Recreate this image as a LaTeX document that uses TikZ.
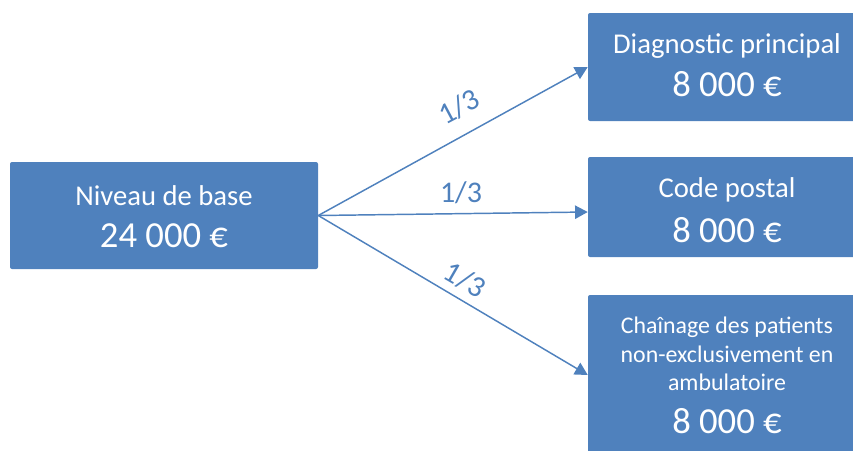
\documentclass[tikz,border=0pt]{standalone}
\usepackage{fontspec}
\setmainfont{Carlito}
\usetikzlibrary{arrows.meta}
\definecolor{boxblue}{HTML}{4F81BD}
\tikzset{
  x=0.75pt, y=-0.75pt,
  box/.style={fill=boxblue, draw=none, rounded corners=1.5pt, inner sep=0pt},
  mid/.style={text=white, anchor=base, inner sep=0pt, font=\fontsize{21.5}{25}\selectfont},
  small/.style={text=white, anchor=base, inner sep=0pt, font=\fontsize{17.9}{21}\selectfont},
  big/.style={text=white, anchor=base, inner sep=0pt, font=\fontsize{27.5}{32}\selectfont},
  conn/.style={draw=boxblue, line width=1.1pt, -{Triangle[length=9.5pt,width=10pt]}},
  frac/.style={text=boxblue, inner sep=0pt, font=\fontsize{22.5}{26}\selectfont}
}
\begin{document}
\begin{tikzpicture}
\useasboundingbox (0,0) rectangle (853,450);
\clip (0,0) rectangle (853,450);
% boxes
\node[box, minimum width=231pt, minimum height=80.25pt] (base) at (164,215.5) {};
\node[box, minimum width=208.5pt, minimum height=81pt] (diag) at (727,67) {};
\node[box, minimum width=208.5pt, minimum height=75pt] (code) at (727,207) {};
\node[box, minimum width=208.5pt, minimum height=120pt] (chain) at (727,375) {};
% texts
\node[mid] (t1) at (164,205) {Niveau de base};
\node[big] (t2) at (164,247) {24 000 €};
\node[mid] (t3) at (727,53) {Diagnostic principal};
\node[big] (t4) at (727,96) {8 000 €};
\node[mid] (t5) at (727,197) {Code postal};
\node[big] (t6) at (727,242) {8 000 €};
\node[small] (t7) at (727,333) {Chaînage des patients};
\node[small] (t8) at (727,362) {non-exclusivement en};
\node[small] (t9) at (727,390) {ambulatoire};
\node[big] (t10) at (727,433) {8 000 €};
% connectors
\draw[conn] (base.east) -- (diag.west);
\draw[conn] (base.east) -- ([yshift=-3.75pt]code.west);
\draw[conn] (base.east) -- (chain.west);
% labels
\node[frac, rotate=28] (f1) at (459,107) {1/3};
\node[frac] (f2) at (461,193) {1/3};
\node[frac, rotate=-30] (f3) at (465,280) {1/3};
\end{tikzpicture}
\end{document}
